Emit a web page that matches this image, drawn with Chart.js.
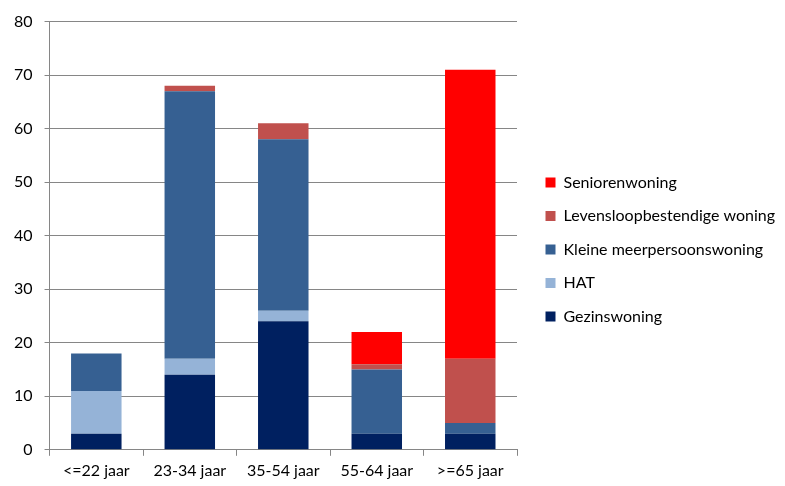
<!DOCTYPE html>
<html>
<head>
<meta charset="utf-8">
<script src="https://cdn.jsdelivr.net/npm/chart.js@4"></script>
<style>
html,body{margin:0;padding:0;background:#fff;}
#wrap{width:785px;height:486px;position:relative;}
</style>
</head>
<body>
<div id="wrap"><canvas id="c"></canvas></div>
<script>
const categories = ["<=22 jaar", "23-34 jaar", "35-54 jaar", "55-64 jaar", ">=65 jaar"];
const gezinswoning = [3, 14, 24, 3, 3];
const hat = [8, 3, 2, 0, 0];
const kleineMeerpersoons = [7, 50, 32, 12, 2];
const levensloopbestendig = [0, 1, 3, 1, 12];
const seniorenwoning = [0, 0, 0, 6, 54];
const yTicks = [0, 10, 20, 30, 40, 50, 60, 70, 80];

const FONT = "Lato";
const legendWidth = 268;
const legendShiftX = 11;
const legendShiftY = 2;

const legendLayout = {
  id: 'legendLayout',
  beforeUpdate(chart) {
    const lg = chart.legend;
    if (lg && !lg._patched) {
      const fit = lg.fit;
      lg.fit = function () { fit.call(this); this.width = legendWidth; };
      lg._patched = true;
    }
  },
  afterLayout(chart) {
    const lg = chart.legend;
    if (lg) {
      lg.left += legendShiftX; lg.right += legendShiftX;
      lg.top += legendShiftY; lg.bottom += legendShiftY;
    }
  }
};

const mk = (label, data, color) => ({
  label, data, backgroundColor: color, borderWidth: 0,
  barPercentage: 0.54, categoryPercentage: 1.0
});

new Chart(document.getElementById('c'), {
  type: 'bar',
  data: {
    labels: categories,
    datasets: [
      mk('Gezinswoning', gezinswoning, '#002060'),
      mk('HAT', hat, '#95B3D7'),
      mk('Kleine meerpersoonswoning', kleineMeerpersoons, '#366092'),
      mk('Levensloopbestendige woning', levensloopbestendig, '#C0504D'),
      mk('Seniorenwoning', seniorenwoning, '#FF0000')
    ]
  },
  options: {
    responsive: true,
    maintainAspectRatio: false,
    animation: false,
    layout: { padding: { top: 10, left: 2, right: 0, bottom: 1 } },
    plugins: {
      tooltip: { enabled: false },
      legend: {
        position: 'right',
        align: 'center',
        reverse: true,
        labels: {
          boxWidth: 10, boxHeight: 10, padding: 17.5,
          color: '#000',
          font: { family: FONT, size: 16 }
        }
      }
    },
    scales: {
      x: {
        stacked: true,
        grid: { display: true, drawOnChartArea: false, offset: true, color: '#868686', tickLength: 6, lineWidth: 1 },
        border: { color: '#868686', width: 1 },
        ticks: { color: '#000', font: { family: FONT, size: 16 }, padding: 5 }
      },
      y: {
        stacked: true,
        min: 0, max: 80,
        afterBuildTicks(axis) { axis.ticks = yTicks.map(v => ({ value: v })); },
        grid: { color: '#868686', tickLength: 5, lineWidth: 1 },
        border: { color: '#868686', width: 1 },
        ticks: { color: '#000', font: { family: FONT, size: 16 }, padding: 12 }
      }
    }
  },
  plugins: [legendLayout]
});
</script>
</body>
</html>
